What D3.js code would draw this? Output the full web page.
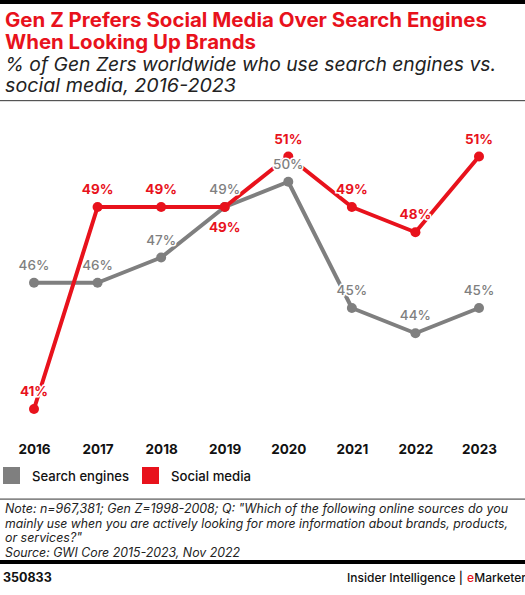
<!DOCTYPE html>
<html><head><meta charset="utf-8">
<script src="https://cdn.jsdelivr.net/npm/d3@7"></script>
<style>body{margin:0;background:#fff;} svg{display:block;}</style>
</head><body>
<svg id="c" width="525" height="595"></svg>
<script>
const years = ["2016","2017","2018","2019","2020","2021","2022","2023"];
const searchEngines = [46,46,47,49,50,45,44,45];
const socialMedia = [41,49,49,49,51,49,48,51];
const seriesNames = ["Search engines","Social media"];
const socialLabelBelow = [false,false,false,true,false,false,false,false];

const RED = "#e8121c", GRAY = "#7f7f7f";
const FONT = "Inter, 'Open Sans', sans-serif";
const svg = d3.select("#c");

function fit(sel, w){ sel.attr("textLength", w).attr("lengthAdjust","spacingAndGlyphs"); }

svg.append("rect").attr("x",0).attr("y",0).attr("width",525).attr("height",4).attr("fill","#000");
const title = ["Gen Z Prefers Social Media Over Search Engines","When Looking Up Brands"];
const titleW = [482, 251];
title.forEach((t,i)=>svg.append("text").attr("x",5).attr("y",27+i*22).text(t)
  .attr("font-family",FONT).attr("font-weight",700).attr("font-size",19.5).attr("fill",RED)
  .call(fit,titleW[i]));
const sub = ["% of Gen Zers worldwide who use search engines vs.","social media, 2016-2023"];
const subW = [491, 231];
sub.forEach((t,i)=>svg.append("text").attr("x",5).attr("y",71+i*21).text(t)
  .attr("font-family",FONT).attr("font-style","italic").attr("font-size",18.5).attr("fill","#222")
  .call(fit,subW[i]));
svg.append("rect").attr("x",0).attr("y",100).attr("width",525).attr("height",1.2).attr("fill","#555");

const x = d3.scalePoint().domain(years).range([34,479]);
const y = d3.scaleLinear().domain([41,51]).range([409,156.5]);

const xAxis = svg.append("g").attr("transform","translate(0,454)")
  .call(d3.axisBottom(x).tickSize(0).tickPadding(0));
xAxis.select(".domain").remove();
xAxis.selectAll("text").attr("font-family",FONT).attr("font-weight",700).attr("font-size",13.5)
  .attr("fill","#111").attr("dy",0);

const line = d3.line().x((d,i)=>x(years[i])).y(d=>y(d));
const series = [{vals:searchEngines,color:GRAY},{vals:socialMedia,color:RED}];
series.forEach(s=>{
  svg.append("path").attr("d",line(s.vals)).attr("fill","none").attr("stroke",s.color)
    .attr("stroke-width",4).attr("stroke-linejoin","round");
  svg.selectAll(null).data(s.vals).enter().append("circle")
    .attr("cx",(d,i)=>x(years[i])).attr("cy",d=>y(d)).attr("r",5).attr("fill",s.color);
});
const addLabels = (vals,color,weight,below)=>{
  vals.forEach((v,i)=>{
    const yy = y(v) + (below && below[i] ? 25 : -13);
    svg.append("text").attr("x",x(years[i])).attr("y",yy).text(v+"%")
      .attr("text-anchor","middle").attr("font-family",FONT).attr("font-size",13.5)
      .attr("font-weight",weight).attr("fill",color)
      .attr("stroke","#fff").attr("stroke-width",3).attr("paint-order","stroke");
  });
};
addLabels(searchEngines,GRAY,500,null);
addLabels(socialMedia,RED,700,socialLabelBelow);

const leg = [{name:seriesNames[0],color:GRAY,x:3,w:97},{name:seriesNames[1],color:RED,x:142,w:80}];
leg.forEach(l=>{
  svg.append("rect").attr("x",l.x).attr("y",467).attr("width",17).attr("height",17).attr("fill",l.color);
  svg.append("text").attr("x",l.x+29).attr("y",481).text(l.name)
    .attr("font-family",FONT).attr("font-weight",500).attr("font-size",13.5).attr("fill","#111")
    .call(fit,l.w);
});
svg.append("rect").attr("x",0).attr("y",498.5).attr("width",525).attr("height",1.2).attr("fill","#555");

const notes = ["Note: n=967,381; Gen Z=1998-2008; Q: \"Which of the following online sources do you",
 "mainly use when you are actively looking for more information about brands, products,",
 "or services?\"","Source: GWI Core 2015-2023, Nov 2022"];
const noteW = [503, 503, 77, 235];
notes.forEach((t,i)=>svg.append("text").attr("x",5).attr("y",513+i*14.5).text(t)
  .attr("font-family",FONT).attr("font-style","italic").attr("font-size",12.5).attr("fill","#222")
  .call(fit,noteW[i]));
svg.append("rect").attr("x",0).attr("y",560).attr("width",525).attr("height",4).attr("fill","#000");
svg.append("text").attr("x",3).attr("y",582).text("350833").attr("font-family",FONT)
  .attr("font-weight",700).attr("font-size",12.5).attr("fill","#111");
// brand line: separate text pieces placed side by side
const brandParts = [{t:"Insider Intelligence |",c:"#111"},{t:"e",c:RED},{t:"Marketer",c:"#111"}];
let bx = 347;
brandParts.forEach((p,i)=>{
  const el = svg.append("text").attr("x",bx).attr("y",582).text(p.t).attr("font-family",FONT)
    .attr("font-weight",500).attr("font-size",12).attr("fill",p.c);
  bx += el.node().getComputedTextLength() + (i===0 ? 4 : 0.3);
});
</script>
</body></html>
